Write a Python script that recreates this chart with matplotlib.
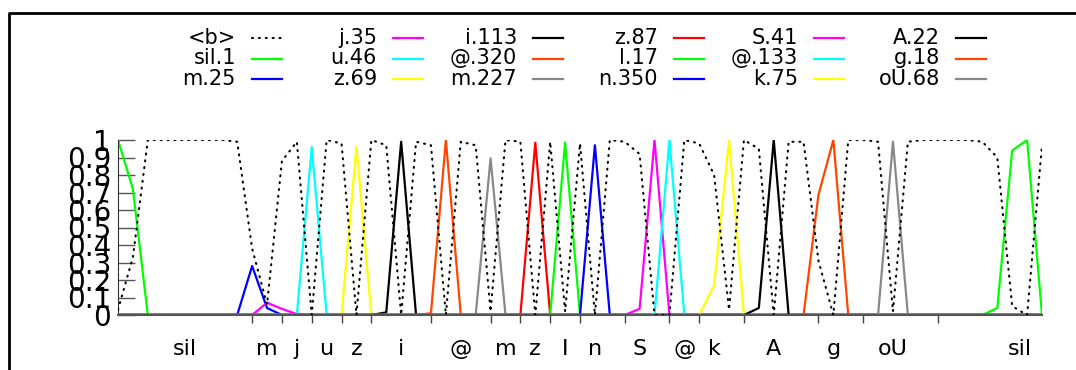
import numpy as np
import matplotlib
matplotlib.use("Agg")
from matplotlib import pyplot as plt
from matplotlib.lines import Line2D

# frame index 0..62
frames = np.arange(63)

blank = [0.03, 0.33, 1.0, 1.0, 1.0, 1.0, 1.0, 1.0, 0.99, 0.38,
         0.06, 0.88, 0.99, 0.0, 1.0, 0.98, 0.0, 1.0, 0.97, 0.0,
         0.99, 0.97, 0.0, 0.99, 0.97, 0.02, 1.0, 0.99, 0.0, 0.99,
         0.02, 0.98, 0.0, 1.0, 0.99, 0.92, 0.0, 0.0, 1.0, 0.98,
         0.8, 0.03, 1.0, 0.95, 0.0, 0.99, 0.99, 0.31, 0.0, 1.0,
         1.0, 0.99, 0.02, 0.99, 1.0, 1.0, 1.0, 1.0, 0.99, 0.9,
         0.05, 0.0, 0.97]

# phone posteriors: {frame: value}, zero elsewhere
peaks = {
    "sil.1": {0: 1.0, 1: 0.72, 59: 0.04, 60: 0.94, 61: 1.0},
    "m.25": {9: 0.28, 10: 0.04},
    "j.35": {10: 0.07, 11: 0.035, 12: 0.005},
    "u.46": {13: 0.96},
    "z.69": {16: 0.96},
    "i.113": {18: 0.015, 19: 0.99},
    "@.320": {21: 0.01, 22: 1.0},
    "m.227": {25: 0.895},
    "z.87": {28: 0.985},
    "l.17": {30: 0.985},
    "n.350": {32: 0.97},
    "S.41": {35: 0.035, 36: 1.0},
    "@.133": {37: 1.0},
    "k.75": {40: 0.17, 41: 1.0},
    "A.22": {43: 0.04, 44: 1.0},
    "g.18": {47: 0.686, 48: 1.0},
    "oU.68": {52: 0.99},
}
colors = ["#00ff00", "#0000ff", "#ff00ff", "#00ffff", "#ffff00", "#000000",
          "#ff4500", "#888888", "#ff0000", "#00ff00", "#0000ff", "#ff00ff",
          "#00ffff", "#ffff00", "#000000", "#ff4500", "#888888"]

phone_labels = ["sil", "m", "j", "u", "z", "i", "@", "m", "z", "I", "n",
                "S", "@", "k", "A", "g", "oU", "sil"]
label_pos = [4.5, 10, 12, 14, 16, 19, 23, 26, 28, 30, 32, 35, 38, 40,
             44, 48, 52, 60.5]
boundaries = [9, 11, 13, 15, 17, 21, 25, 27, 29, 31, 34, 37, 39, 42, 47,
              50, 55]

DOTS = (0, (0.5, 2.8))

fig = plt.figure(figsize=(10.76, 3.70), dpi=100)
ax = fig.add_axes([118 / 1076, 55 / 370, 924 / 1076, 175 / 370])

for (name, pk), c in zip(peaks.items(), colors):
    y = np.zeros(len(frames))
    for f, v in pk.items():
        y[f] = v
    ax.plot(frames, y, color=c, lw=1.6, label=name)
ax.plot(frames, blank, color="black", lw=1.5, linestyle=DOTS,
        dash_capstyle="round", label="<b>", zorder=5)

ax.set_xlim(0, 62)
ax.set_ylim(0, 1)
for s in ["top", "right"]:
    ax.spines[s].set_visible(False)
ax.spines["left"].set_color("#333333")
ax.spines["bottom"].set_color("#555555")
ax.spines["bottom"].set_linewidth(1.5)

ax.set_yticks(np.arange(0, 1.01, 0.1))
ax.set_yticklabels(["0"] + [f"{v:.1f}" for v in np.arange(0.1, 0.95, 0.1)] + ["1"])
ax.tick_params(axis="y", direction="in", length=12, width=1, color="#555555",
               labelsize=20, pad=5)

ax.set_xticks(label_pos)
ax.set_xticklabels(phone_labels)
ax.set_xticks(boundaries, minor=True)
ax.tick_params(axis="x", which="major", length=0, labelsize=16, pad=17)
ax.tick_params(axis="x", which="minor", direction="out", length=6, width=1,
               color="#444444")

# gnuplot-style key: 6 columns x 3 rows, text right aligned, sample right
names = ["<b>"] + list(peaks.keys())
key_colors = ["black"] + colors
col_right = [236, 377, 517, 658, 798, 940]
row_y = [37.5, 58.5, 79]
for i, (n, c) in enumerate(zip(names, key_colors)):
    xr = col_right[i // 3]
    yy = 1 - row_y[i % 3] / 370
    fig.text(xr / 1076, yy, n, ha="right", va="center", fontsize=15)
    if i == 0:
        ls, lw = DOTS, 1.5
    else:
        ls, lw = "-", 1.6
    fig.add_artist(Line2D([(xr + 16) / 1076, (xr + 46) / 1076], [yy, yy],
                          color=c, lw=lw, linestyle=ls, dash_capstyle="round"))

# outer frame (cropped)
fig.add_artist(Line2D([9 / 1076, 9 / 1076, 1.0], [0.0, 1 - 13 / 370, 1 - 13 / 370],
                      color="black", lw=2))

fig.savefig("out.png", dpi=100)
